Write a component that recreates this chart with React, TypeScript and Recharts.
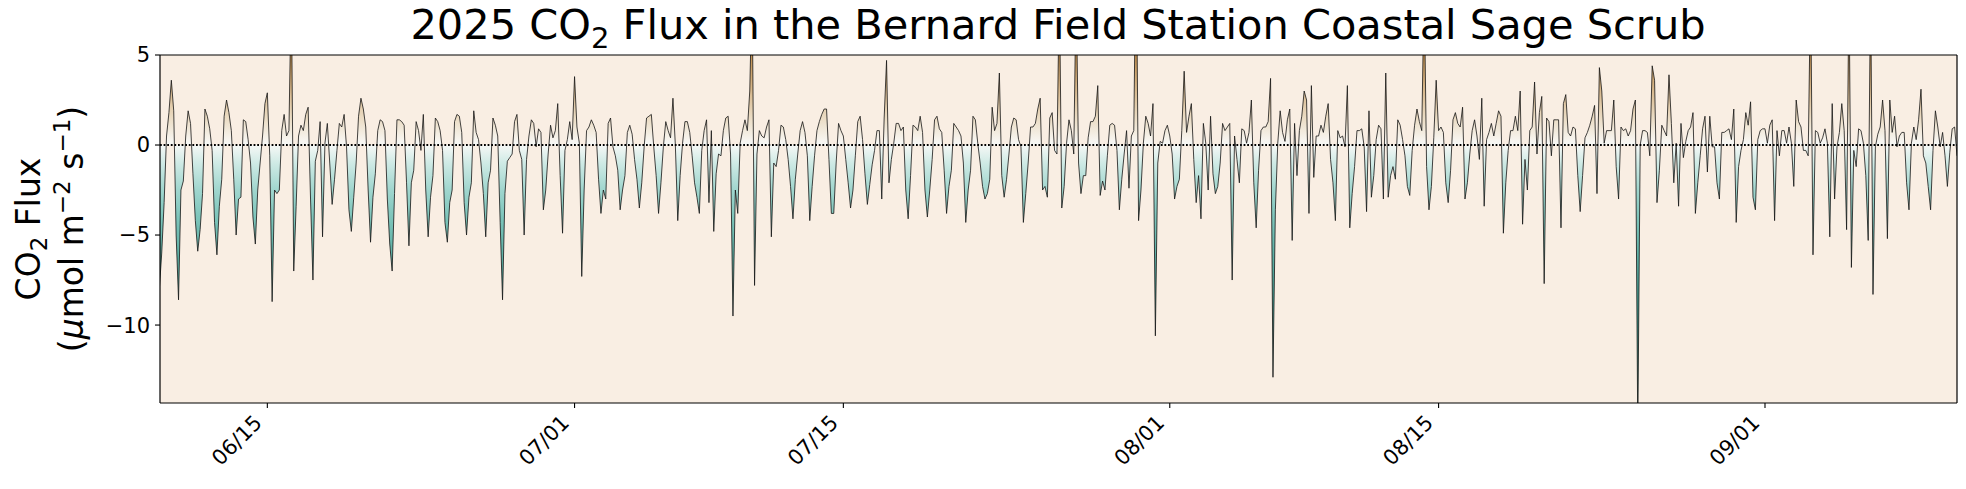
import { ComposedChart, Area, XAxis, YAxis, CartesianGrid, ReferenceLine } from 'recharts'

// 3-hourly CO2 flux (µmol m-2 s-1).
// One line per day, slots at 00, 03, 06, 09, 12, 15, 18, 21 h. Spikes above 5 / below -14.3 are clipped.
const juneFlux = [
  /* 06/09 from 09h */ -8.0, -6.0, -3.2, 0.5, 1.8,
  /* 06/10 */ 3.6, 1.9, -5.0, -8.6, -2.5, -2.0, 0.5, 1.9,
  /* 06/11 */ 1.2, -1.6, -4.2, -5.9, -4.7, -2.7, 2.0, 1.6,
  /* 06/12 */ 0.9, -0.3, -4.3, -6.1, -3.4, -1.9, 1.6, 2.5,
  /* 06/13 */ 1.8, 0.8, -1.9, -5.0, -3.0, -2.9, 1.4, 1.3,
  /* 06/14 */ 0.3, -1.0, -4.0, -5.5, -2.5, -1.0, 0.5, 2.3,
  /* 06/15 */ 2.9, -0.6, -8.7, -2.5, -2.7, -2.5, 0.8, 1.7,
  /* 06/16 */ 0.5, 0.8, 9.0, -7.0, -3.4, 0.5, 1.1, 0.8,
  /* 06/17 */ 1.7, 2.1, -3.0, -7.5, -0.9, -0.3, 1.3, -5.1,
  /* 06/18 */ 0.1, 1.2, -1.0, -3.3, -1.9, -0.3, 1.2, 1.0,
  /* 06/19 */ 1.7, -0.1, -3.6, -4.8, -2.9, -1.0, 1.6, 2.6,
  /* 06/20 */ 2.0, 1.0, -2.5, -5.4, -2.9, -1.6, 0.8, 1.4,
  /* 06/21 */ 1.3, 0.8, -3.0, -5.5, -7.0, -2.7, 1.4, 1.4,
  /* 06/22 */ 1.3, 1.1, -2.1, -5.6, -2.1, -1.4, 1.3, 0.8,
  /* 06/23 */ -0.3, 1.7, -2.5, -5.1, -2.9, -1.7, 1.5, 1.3,
  /* 06/24 */ 0.8, -0.3, -4.3, -5.4, -3.2, -2.5, 1.3, 1.7,
  /* 06/25 */ 1.6, 0.7, -3.2, -5.0, -2.9, -2.1, 1.9, 0.7,
  /* 06/26 */ 0.3, -1.0, -2.7, -5.1, -2.1, -1.4, 1.5, 1.1,
  /* 06/27 */ 0.5, -4.3, -8.6, -2.7, -0.9, -0.7, -0.5, 1.3,
  /* 06/28 */ 1.7, -0.3, -0.8, -5.0, -0.8, 0.5, 1.4, 1.2,
  /* 06/29 */ -0.1, 0.9, 0.7, -3.6, -2.5, -0.5, 1.1, 0.4,
  /* 06/30 */ 0.8, 2.3, -1.7, -4.9, -0.3, 0.3, 1.3, 0.3,
]

const julyFlux = [
  /* 07/01 */ 3.8, 1.0, 0.1, -7.3, -2.5, 0.8, 1.0, 1.4,
  /* 07/02 */ 1.1, 0.7, -1.9, -3.8, -2.5, -3.0, 1.2, 1.5,
  /* 07/03 */ -0.1, -0.6, -1.4, -3.6, -2.5, -1.7, 0.7, 1.1,
  /* 07/04 */ 0.6, -0.8, -1.9, -3.5, -2.1, -0.1, 1.5, 1.6,
  /* 07/05 */ 1.7, -0.1, -1.7, -3.8, -2.1, -0.1, 1.3, 0.8,
  /* 07/06 */ 0.4, 2.6, 0.0, -4.2, -1.7, 0.1, 1.3, 1.3,
  /* 07/07 */ 0.7, -0.6, -2.1, -2.9, -3.8, -0.3, 0.8, 1.4,
  /* 07/08 */ -3.2, 0.8, -4.8, -1.6, -0.5, -0.6, 0.8, 1.5,
  /* 07/09 */ 1.6, -0.5, -9.5, -2.5, -3.8, 0.1, 0.8, 1.4,
  /* 07/10 */ 0.8, 3.0, 9.0, -7.8, -0.5, 0.8, 0.5, 0.4,
  /* 07/11 */ 1.0, 1.4, -5.1, -1.0, -1.2, -0.3, 1.1, 1.0,
  /* 07/12 */ 0.3, -0.8, -2.3, -4.1, -1.9, -0.5, 0.8, 1.3,
  /* 07/13 */ 0.7, -0.6, -4.2, -2.3, -0.6, 0.8, 1.3, 1.7,
  /* 07/14 */ 2.0, 2.0, -0.8, -3.8, -3.8, -1.0, 1.2, 0.8,
  /* 07/15 */ 0.5, -0.8, -2.1, -3.5, -2.5, -0.6, 1.3, 1.6,
  /* 07/16 */ 0.3, -1.6, -3.3, -2.2, -1.1, -0.3, 0.8, 0.8,
  /* 07/17 */ -3.0, 1.5, 4.7, -2.1, -0.8, 0.1, 1.2, 1.2,
  /* 07/18 */ 0.8, 1.0, -2.5, -4.1, -1.7, 1.1, 1.0, 0.8,
  /* 07/19 */ 1.6, 0.7, -2.5, -4.0, -2.5, -0.8, 1.4, 1.6,
  /* 07/20 */ 0.9, 0.7, -1.4, -3.8, -2.3, -1.4, 1.2, 1.0,
  /* 07/21 */ 0.8, 0.5, -1.0, -4.3, -2.5, -1.4, 1.6, 1.4,
  /* 07/22 */ 0.1, -1.0, -2.3, -3.0, -2.7, -1.9, 2.1, 0.8,
  /* 07/23 */ 1.2, 4.0, -1.7, -2.9, -1.9, -0.5, 1.0, 1.5,
  /* 07/24 */ 1.4, 0.3, -0.1, -4.3, -2.7, -1.0, 1.0, 1.0,
  /* 07/25 */ 1.2, 2.0, 2.6, -2.5, -2.3, -2.9, 1.5, 1.8,
  /* 07/26 */ -0.3, -0.5, 9.0, -3.5, -2.3, 0.1, 1.4, 0.8,
  /* 07/27 */ -0.5, 9.0, -1.0, -2.7, -1.7, -1.7, 0.4, 1.3,
  /* 07/28 */ 1.3, 1.6, 3.3, -2.8, -2.0, -2.5, -0.6, 1.1,
  /* 07/29 */ 1.2, 1.1, -0.3, -3.6, -1.9, -0.5, 0.8, -2.4,
  /* 07/30 */ 0.5, 0.8, 12.0, -4.2, -2.5, 0.1, 1.6, 1.2,
  /* 07/31 */ 0.5, 2.3, -10.6, -1.0, 0.2, 0.1, 0.8, 1.1,
]

const augustFlux = [
  /* 08/01 */ 0.5, -0.5, -3.0, -2.3, -1.9, 0.8, 4.1, 0.7,
  /* 08/02 */ 1.6, 2.3, -0.8, -3.2, -1.7, -4.1, 1.2, 0.1,
  /* 08/03 */ -2.5, 1.6, -1.6, -2.7, -2.3, -1.0, 1.2, 0.8,
  /* 08/04 */ 1.0, 1.2, -7.5, 0.5, -0.8, -2.1, 0.9, 0.8,
  /* 08/05 */ 0.1, 0.7, 2.5, -2.1, -4.6, -1.4, 0.8, 1.0,
  /* 08/06 */ 1.0, 1.3, 3.7, -12.9, -3.6, 0.1, 1.9, 0.7,
  /* 08/07 */ 0.2, 1.4, 2.0, -5.3, 1.2, -1.7, 0.8, 1.6,
  /* 08/08 */ 3.0, 2.5, -3.8, 3.3, -1.8, 0.5, 0.5, 1.1,
  /* 08/09 */ 0.7, 1.6, 2.3, -0.8, -2.1, -4.2, 0.8, 0.4,
  /* 08/10 */ 0.5, -0.1, 3.3, -4.6, -2.7, -1.2, 0.8, 0.8,
  /* 08/11 */ 0.9, -0.1, -3.7, 1.9, -2.9, -1.7, 0.3, 1.1,
  /* 08/12 */ 0.9, -3.0, 4.0, -2.9, -1.7, -1.2, -1.9, 1.4,
  /* 08/13 */ 1.1, 0.3, -0.6, -2.3, -2.8, -0.3, 1.1, 2.0,
  /* 08/14 */ 1.3, 0.8, 9.0, -1.2, -3.6, -2.3, 0.4, 3.6,
  /* 08/15 */ 0.8, 1.0, 0.7, -2.1, -3.2, -1.4, 1.4, 1.8,
  /* 08/16 */ 1.2, 1.0, 2.1, -3.0, -2.1, -0.5, 0.8, 1.4,
  /* 08/17 */ 0.5, -0.8, 2.6, -3.4, 0.3, 0.7, 1.2, 0.5,
  /* 08/18 */ 1.2, 1.9, 1.6, -4.9, -2.1, -0.3, 0.8, 0.8,
  /* 08/19 */ 1.6, 0.8, 3.0, -4.4, -0.8, -2.5, 0.8, 1.0,
  /* 08/20 */ 3.5, -0.5, 1.8, 2.7, -7.7, 1.5, 1.3, -0.6,
  /* 08/21 */ 1.4, 1.4, 1.4, -4.6, 2.3, 2.8, 0.7, 0.5,
  /* 08/22 */ 1.0, 0.9, -1.7, -3.7, -1.7, 0.4, 0.7, 1.1,
  /* 08/23 */ 1.6, 2.2, -2.7, 4.3, 3.0, 0.1, 0.8, 0.8,
  /* 08/24 */ 0.8, 2.5, -1.2, -3.0, 1.0, 0.8, 0.9, 0.5,
  /* 08/25 */ 0.8, 2.0, 2.5, -16.0, 0.0, 0.8, 0.8, 0.7,
  /* 08/26 */ -0.6, 4.4, 3.6, -3.2, -1.4, 1.1, 0.8, 0.5,
  /* 08/27 */ 3.9, 1.2, -2.1, 0.1, -3.4, 1.2, -0.7, 0.2,
  /* 08/28 */ 0.8, 1.0, 1.8, -3.8, -2.1, -0.6, 0.9, 1.6,
  /* 08/29 */ -1.5, 1.6, -0.1, -0.1, -2.1, -3.0, 0.7, 0.7,
  /* 08/30 */ 0.8, 0.9, 0.3, 2.0, -4.3, -1.2, -0.3, 0.3,
  /* 08/31 */ 1.8, 1.1, 2.4, -2.9, -3.6, 0.3, 0.8, 0.9,
]

const septemberFlux = [
  /* 09/01 */ 0.9, 0.1, 1.1, 1.4, -4.2, 0.8, -0.6, 0.8,
  /* 09/02 */ 0.8, 0.1, 1.0, 0.1, -2.3, 2.5, 1.3, 1.0,
  /* 09/03 */ -0.3, -0.3, -0.6, 9.0, -6.1, 0.8, 0.7, 0.1,
  /* 09/04 */ 0.4, 0.9, 0.1, -5.1, 2.3, -3.0, -0.1, 0.7,
  /* 09/05 */ 2.3, 0.8, -4.7, 9.0, -6.8, -0.3, -1.2, 0.9,
  /* 09/06 */ 0.8, 0.1, -1.7, -5.3, 9.0, -8.3, -0.1, 0.6,
  /* 09/07 */ 1.0, 2.5, 0.8, -5.2, 2.5, 0.7, 1.6, -0.1,
  /* 09/08 */ 0.5, 0.7, 0.7, -2.1, -3.6, 0.1, 1.0, 0.3,
  /* 09/09 */ 1.4, 3.1, -0.6, -1.0, -2.3, -3.6, -0.3, 1.9,
  /* 09/10 */ 1.0, -0.1, 0.7, -0.6, -2.3, -0.4, 0.9, 1.0,
  /* 09/11 */ -0.6,
]

const tickDates = ['2025-06-15', '2025-07-01', '2025-07-15', '2025-08-01', '2025-08-15', '2025-09-01']
const fluxTicks = [-10, -5, 0, 5]

const START = Date.UTC(2025, 5, 9, 9)
const STEP = 3 * 3600 * 1000
const X_DOMAIN = [Date.UTC(2025, 5, 9, 9, 50), Date.UTC(2025, 8, 11, 0, 0)]
const Y_DOMAIN = [-14.33, 5]

const flux = [...juneFlux, ...julyFlux, ...augustFlux, ...septemberFlux]
const data = flux.map((v, i) => ({ t: START + i * STEP, flux: v }))

// BrBG-like colour ramp keyed on flux value
const colourRamp: [number, string][] = [
  [12, '#8a561a'], [8, '#a8712d'], [5, '#c29050'], [3, '#d8b98e'], [1.5, '#ebdcc4'],
  [0.3, '#f7f4ee'], [0, '#f6f8f6'], [-1, '#cfeae5'], [-2.5, '#a0d6ce'], [-4, '#7ec5bb'],
  [-6, '#5fb1a6'], [-9, '#3f9a8e'], [-13, '#267f72'], [-16, '#1b7166'],
]
const fluxTop = Math.max(...flux, 0)
const fluxBottom = Math.min(...flux, 0)

const FONT = 'DejaVu Sans'
const frame = { stroke: '#000', strokeWidth: 1.2 }

const DateTick = ({ x, y, payload }: any) => {
  const d = new Date(payload.value)
  const label = `${String(d.getUTCMonth() + 1).padStart(2, '0')}/${String(d.getUTCDate()).padStart(2, '0')}`
  const bx = x - 4
  const by = y + 16
  return (
    <text x={bx} y={by} textAnchor="end" transform={`rotate(-45 ${bx} ${by})`}
      fontFamily={FONT} fontSize={21} fill="#000">{label}</text>
  )
}

const fmtFlux = (v: number) => (v < 0 ? `\u2212${-v}` : `${v}`)

export default function App() {
  return (
    <div style={{ position: 'relative', width: 1966, height: 489, background: '#fff' }}>
      <style>{'body{margin:0}'}</style>
      <ComposedChart width={1966} height={489} data={data}
        margin={{ top: 55, right: 9, bottom: 0, left: 0 }}>
        <defs>
          <linearGradient id="fluxFill" x1="0" y1="0" x2="0" y2="1">
            {colourRamp.map(([v, c]) => (
              <stop key={v} offset={(fluxTop - v) / (fluxTop - fluxBottom)} stopColor={c} />
            ))}
          </linearGradient>
        </defs>
        <CartesianGrid horizontal={false} vertical={false} fill="#f9eee3" />
        <XAxis dataKey="t" type="number" domain={X_DOMAIN} allowDataOverflow
          ticks={tickDates.map(d => Date.parse(d))} interval={0} height={86}
          tick={<DateTick />} tickSize={5} tickMargin={0}
          tickLine={{ stroke: '#000', strokeWidth: 1.1 }} axisLine={frame} />
        <YAxis type="number" domain={Y_DOMAIN} allowDataOverflow ticks={fluxTicks} interval={0}
          width={160} tickSize={5} tickMargin={5} tickFormatter={fmtFlux}
          tick={{ fontFamily: FONT, fontSize: 21, fill: '#000' }}
          tickLine={{ stroke: '#000', strokeWidth: 1.1 }} axisLine={frame} />
        <Area type="linear" dataKey="flux" baseValue={0} fill="url(#fluxFill)" fillOpacity={1}
          stroke="#151515" strokeWidth={0.8} dot={false} activeDot={false} isAnimationActive={false} />
        <ReferenceLine y={0} stroke="#000" strokeWidth={1.8} strokeDasharray="1.8 1.8" />
        <ReferenceLine y={Y_DOMAIN[1]} {...frame} />
        <ReferenceLine x={X_DOMAIN[1]} {...frame} />
      </ComposedChart>
      <svg width={1966} height={489} style={{ position: 'absolute', left: 0, top: 0, pointerEvents: 'none' }}
        fontFamily={FONT} fill="#000">
        <text x={1058} y={39} textAnchor="middle" fontSize={41.5}>
          2025 CO<tspan dy={9} fontSize={29}>2</tspan>
          <tspan dy={-9}> Flux in the Bernard Field Station Coastal Sage Scrub</tspan>
        </text>
        <g transform="rotate(-90)">
          <text x={-229} y={40} textAnchor="middle" fontSize={33}>
            CO<tspan dy={7} fontSize={23}>2</tspan><tspan dy={-7}> Flux</tspan>
          </text>
          <text x={-229} y={83} textAnchor="middle" fontSize={33}>
            (<tspan fontStyle="italic">μ</tspan>mol m<tspan dy={-13} fontSize={23}>−2</tspan>
            <tspan dy={13}> s</tspan><tspan dy={-13} fontSize={23}>−1</tspan><tspan dy={13}>)</tspan>
          </text>
        </g>
      </svg>
    </div>
  )
}
